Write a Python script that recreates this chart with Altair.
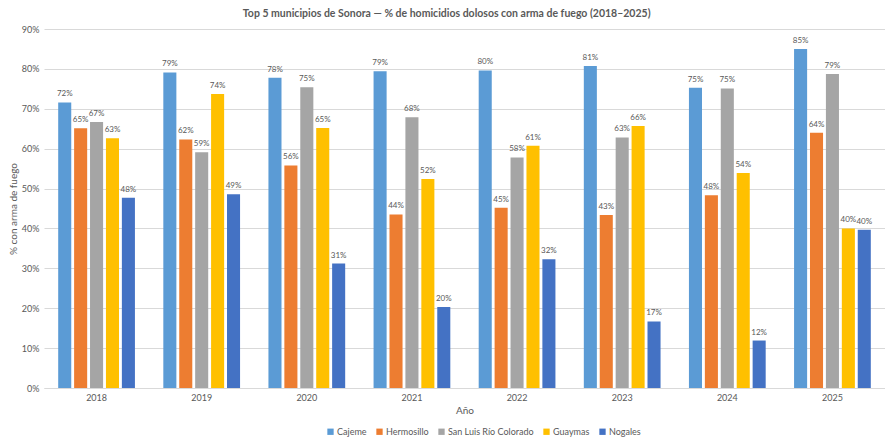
import altair as alt
import pandas as pd

years = ["2018", "2019", "2020", "2021", "2022", "2023", "2024", "2025"]
municipios = ["Cajeme", "Hermosillo", "San Luis Río Colorado", "Guaymas", "Nogales"]
colors = ["#5B9BD5", "#ED7D31", "#A5A5A5", "#FFC000", "#4472C4"]

cajeme = [71.6, 79.1, 77.8, 79.4, 79.6, 80.7, 75.3, 85.0]
hermosillo = [65.1, 62.3, 55.8, 43.5, 45.2, 43.4, 48.3, 64.0]
slrc = [66.7, 59.1, 75.4, 67.9, 57.8, 62.8, 75.1, 78.7]
guaymas = [62.6, 73.7, 65.2, 52.4, 60.7, 65.7, 53.9, 40.0]
nogales = [47.7, 48.6, 31.2, 20.3, 32.3, 16.7, 11.9, 39.7]

series = [cajeme, hermosillo, slrc, guaymas, nogales]
rows = []
for m, vals in zip(municipios, series):
    for y, v in zip(years, vals):
        rows.append({"Año": y, "Municipio": m, "pct": v / 100.0, "label": f"{round(v)}%"})
df = pd.DataFrame(rows)

FONT = "Lato"
GRAY = "#595959"

x = alt.X("Año:N", title="Año",
          scale=alt.Scale(paddingInner=0.27, paddingOuter=0.135),
          axis=alt.Axis(labelAngle=0, ticks=False, domainColor="#D9D9D9",
                        labelFontSize=9, labelColor=GRAY, titleFontSize=10,
                        titleColor=GRAY, titleFontWeight="normal", labelPadding=5,
                        titlePadding=3))
xo = alt.XOffset("Municipio:N", sort=municipios, scale=alt.Scale(paddingInner=0.18))
y = alt.Y("pct:Q", title="% con arma de fuego",
          scale=alt.Scale(domain=[0, 0.9]),
          axis=alt.Axis(format=".0%", values=[i / 10 for i in range(10)], ticks=False,
                        domain=False, gridColor="#D9D9D9", labelFontSize=9,
                        labelColor=GRAY, titleFontSize=10, titleColor=GRAY,
                        titleFontWeight="normal", labelPadding=5, titlePadding=3))

bars = alt.Chart(df).mark_bar().encode(
    x=x, xOffset=xo, y=y,
    color=alt.Color("Municipio:N", sort=municipios,
                    scale=alt.Scale(domain=municipios, range=colors),
                    legend=alt.Legend(title=None, orient="none", direction="horizontal",
                                      legendX=282, legendY=398, symbolType="square",
                                      symbolSize=40, labelFontSize=9, labelColor=GRAY,
                                      columnPadding=8, labelOffset=2,
                                      symbolStrokeWidth=0)),
)

labels = alt.Chart(df).mark_text(baseline="bottom", dy=-4, fontSize=8, color=GRAY,
                                 font=FONT).encode(
    x=x, xOffset=xo, y=y, text="label:N")

chart = (bars + labels).properties(
    width=841, height=359,
    padding={"left": 0, "top": 0, "right": 0, "bottom": 0},
    title=alt.TitleParams("Top 5 municipios de Sonora — % de homicidios dolosos con arma de fuego (2018–2025)",
                          fontSize=10.5, fontWeight="bold", color=GRAY, font=FONT,
                          anchor="middle", frame="bounds", offset=6),
    background="white",
).configure(font=FONT).configure_view(stroke=None)

chart.save("out.html", embed_options={"renderer": "svg", "actions": False})
